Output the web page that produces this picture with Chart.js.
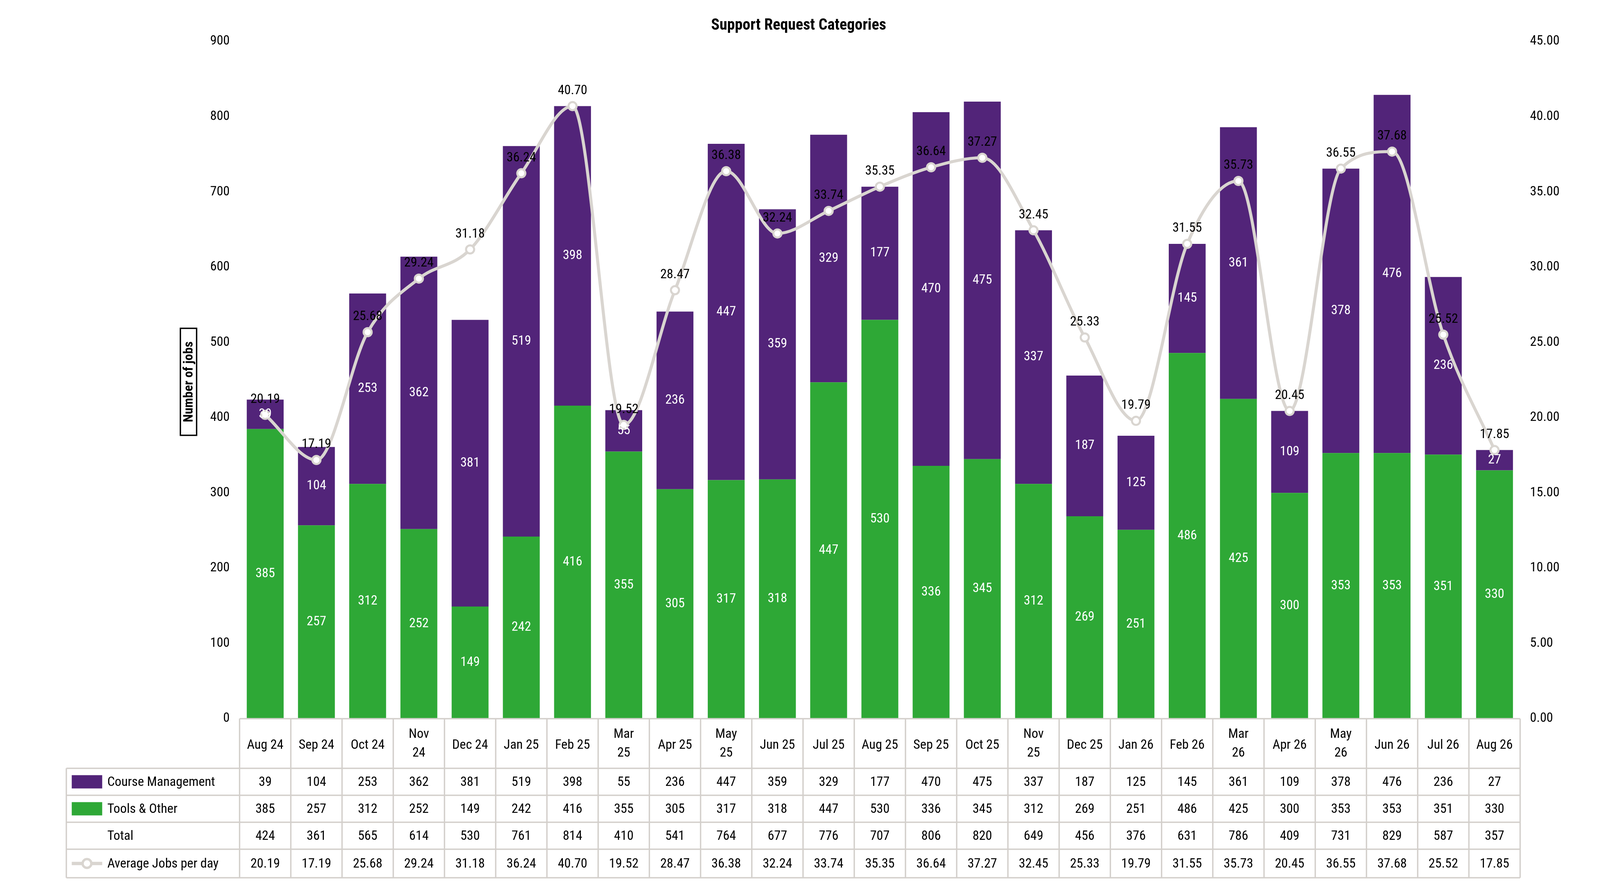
<!DOCTYPE html>
<html><head><meta charset="utf-8">
<script src="https://cdn.jsdelivr.net/npm/chart.js@4"></script>
<style>html,body{margin:0;padding:0;background:#fff;overflow:hidden}#w{position:relative;width:100vw;height:100vh}</style>
</head><body><div id="w"><canvas id="c"></canvas></div>
<script>
const categories = [["Aug 24"],["Sep 24"],["Oct 24"],["Nov","24"],["Dec 24"],["Jan 25"],["Feb 25"],["Mar","25"],["Apr 25"],["May","25"],["Jun 25"],["Jul 25"],["Aug 25"],["Sep 25"],["Oct 25"],["Nov","25"],["Dec 25"],["Jan 26"],["Feb 26"],["Mar","26"],["Apr 26"],["May","26"],["Jun 26"],["Jul 26"],["Aug 26"]];
const courseMgmt = [39,104,253,362,381,519,398,55,236,447,359,329,177,470,475,337,187,125,145,361,109,378,476,236,27];
const toolsOther = [385,257,312,252,149,242,416,355,305,317,318,447,530,336,345,312,269,251,486,425,300,353,353,351,330];
const totals = [424,361,565,614,530,761,814,410,541,764,677,776,707,806,820,649,456,376,631,786,409,731,829,587,357];
const avgPerDay = [20.19,17.19,25.68,29.24,31.18,36.24,40.70,19.52,28.47,36.38,32.24,33.74,35.35,36.64,37.27,32.45,25.33,19.79,31.55,35.73,20.45,36.55,37.68,25.52,17.85];
const leftTicks = [0,100,200,300,400,500,600,700,800,900];
const rightTicks = [0,5,10,15,20,25,30,35,40,45];

const PURPLE='#522479', GREEN='#2EA836', GRAY='#D9D5D0', GRID='#D3CFCB';
const FONT='"Liberation Sans Narrow","Roboto Condensed","Open Sans",sans-serif';
const W0=4728, H0=2262;
function KX(ch){return ch.width/W0;} function KY(ch){return ch.height/H0;}

const tablePlugin = {
  id:'tbl',
  afterDraw(chart){
    const ctx=chart.ctx, x=chart.scales.x, ca=chart.chartArea;
    const kx=KX(chart), ky=KY(chart), k=Math.min(kx,ky), fs=39*k;
    const n=categories.length;
    const colW=(ca.right-ca.left)/n;
    const rows=[ca.bottom,1966*ky,2035*ky,2104*ky,2173*ky,2246*ky];
    const tLeft=196*kx;
    ctx.save();
    ctx.strokeStyle=GRID; ctx.lineWidth=4*k;
    ctx.beginPath();
    ctx.moveTo(ca.left,rows[0]); ctx.lineTo(ca.right,rows[0]);
    for(let r=1;r<rows.length;r++){ctx.moveTo(tLeft,rows[r]);ctx.lineTo(ca.right,rows[r]);}
    for(let i=0;i<=n;i++){const px=ca.left+i*colW; ctx.moveTo(px,rows[0]); ctx.lineTo(px,rows[5]);}
    ctx.moveTo(tLeft,rows[1]); ctx.lineTo(tLeft,rows[5]);
    ctx.stroke();
    ctx.fillStyle='#000'; ctx.font=fs+'px '+FONT; ctx.textAlign='center'; ctx.textBaseline='middle';
    for(let i=0;i<n;i++){
      const cx=x.getPixelForValue(i);
      const lab=categories[i];
      if(lab.length===1) ctx.fillText(lab[0],cx,1908*ky);
      else{ctx.fillText(lab[0],cx,1880*ky);ctx.fillText(lab[1],cx,1928*ky);}
      const vals=[courseMgmt[i],toolsOther[i],totals[i],avgPerDay[i].toFixed(2)];
      for(let r=0;r<4;r++) ctx.fillText(String(vals[r]),cx,(rows[r+1]+rows[r+2])/2+2*ky);
    }
    ctx.textAlign='left';
    const names=['Course Management','Tools & Other','Total','Average Jobs per day'];
    for(let r=0;r<4;r++){
      const cy=(rows[r+1]+rows[r+2])/2;
      if(r===0){ctx.fillStyle=PURPLE;ctx.fillRect(212*kx,cy-17*ky,90*kx,34*ky);}
      if(r===1){ctx.fillStyle=GREEN;ctx.fillRect(212*kx,cy-17*ky,90*kx,34*ky);}
      if(r===3){ctx.strokeStyle=GRAY;ctx.lineWidth=10*k;ctx.beginPath();ctx.moveTo(212*kx,cy);ctx.lineTo(302*kx,cy);ctx.stroke();
        ctx.fillStyle='#fff';ctx.lineWidth=7*k;ctx.beginPath();ctx.arc(257*kx,cy,13*k,0,Math.PI*2);ctx.fill();ctx.stroke();}
      ctx.fillStyle='#000'; ctx.fillText(names[r],317*kx,cy+2*ky);
    }
    ctx.textAlign='center'; ctx.font='bold '+(46*k)+'px '+FONT;
    ctx.fillText('Support Request Categories',2360*kx,66*ky);
    ctx.save(); ctx.translate(557*kx,977*ky); ctx.rotate(-Math.PI/2);
    ctx.font='bold '+fs+'px '+FONT; ctx.fillText('Number of jobs',0,2*k);
    ctx.strokeStyle='#000'; ctx.lineWidth=4*k; ctx.strokeRect(-158*k,-24*k,316*k,48*k);
    ctx.restore();
    ctx.restore();
  },
  afterDatasetsDraw(chart){
    const ctx=chart.ctx, k=Math.min(KX(chart),KY(chart));
    ctx.save(); ctx.font=(39*k)+'px '+FONT; ctx.textAlign='center'; ctx.textBaseline='middle';
    [0,1].forEach(di=>{
      const meta=chart.getDatasetMeta(di);
      meta.data.forEach((b,i)=>{
        ctx.fillStyle='#fff';
        ctx.fillText(String(chart.data.datasets[di].data[i]),b.x,(b.y+b.base)/2);
      });
    });
    const lm=chart.getDatasetMeta(2);
    ctx.fillStyle='#000';
    lm.data.forEach((p,i)=>{ctx.fillText(avgPerDay[i].toFixed(2),p.x,p.y-45*k);});
    ctx.restore();
  }
};

const K0=Math.min(window.innerWidth/W0, window.innerHeight/H0);
new Chart(document.getElementById('c'),{
  data:{
    labels:categories.map(c=>c.join(' ')),
    datasets:[
      {type:'bar',label:'Tools & Other',data:toolsOther,backgroundColor:GREEN,stack:'s',order:1,yAxisID:'y',barPercentage:0.72,categoryPercentage:1},
      {type:'bar',label:'Course Management',data:courseMgmt,backgroundColor:PURPLE,stack:'s',order:2,yAxisID:'y',barPercentage:0.72,categoryPercentage:1},
      {type:'line',label:'Average Jobs per day',data:avgPerDay,borderColor:GRAY,borderWidth:9*K0,cubicInterpolationMode:'monotone',
       pointRadius:12*K0,pointBorderWidth:6*K0,pointBackgroundColor:'#fff',pointBorderColor:GRAY,order:0,yAxisID:'y1'}
    ]
  },
  options:{
    responsive:true,maintainAspectRatio:false,animation:false,
    layout:{padding:{top:106*window.innerHeight/H0,left:0,right:0,bottom:0}},
    plugins:{legend:{display:false},tooltip:{enabled:false},title:{display:false}},
    scales:{
      x:{stacked:true,grid:{display:false},border:{display:false},ticks:{display:false},
         afterFit(s){s.height=(H0-1839)*s.chart.height/H0;}},
      y:{stacked:true,position:'left',min:0,max:900,grid:{display:false},border:{display:false},
         afterBuildTicks(s){s.ticks=leftTicks.map(v=>({value:v}));},
         ticks:{font:{size:39*K0,family:FONT},color:'#000',padding:20*K0},
         afterFit(s){s.width=708*s.chart.width/W0;}},
      y1:{position:'right',min:0,max:45,grid:{display:false},border:{display:false},
         afterBuildTicks(s){s.ticks=rightTicks.map(v=>({value:v}));},
         ticks:{font:{size:39*K0,family:FONT},color:'#000',padding:20*K0,callback:v=>Number(v).toFixed(2)},
         afterFit(s){s.width=(W0-4492)*s.chart.width/W0;}}
    }
  },
  plugins:[tablePlugin]
});
</script></body></html>
